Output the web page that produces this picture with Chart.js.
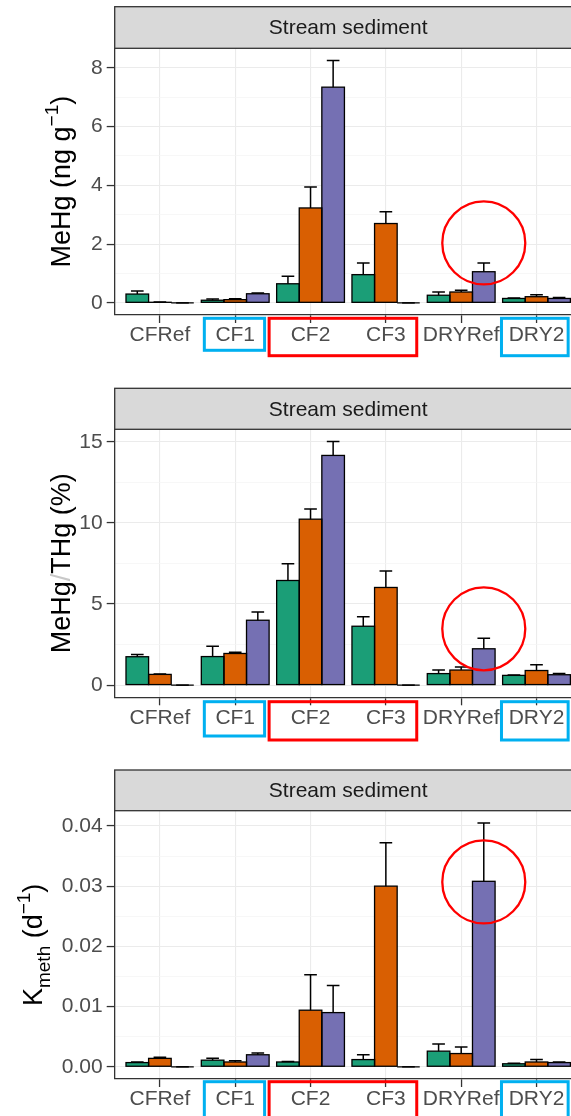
<!DOCTYPE html>
<html>
<head>
<meta charset="utf-8">
<script src="https://cdn.jsdelivr.net/npm/chart.js@4.4.1/dist/chart.umd.min.js"></script>
<style>
  html, body { margin: 0; padding: 0; background: #fff; }
  body { width: 571px; height: 1116px; overflow: hidden; position: relative; }
  .panel { position: absolute; left: 0; width: 571px; overflow: hidden; }
  canvas { display: block; }
</style>
</head>
<body>
<div class="panel" style="top:0;height:380px"><canvas id="meHgChart" width="600" height="380"></canvas></div>
<div class="panel" style="top:380px;height:380px"><canvas id="ratioChart" width="600" height="380"></canvas></div>
<div class="panel" style="top:760px;height:356px"><canvas id="kmethChart" width="600" height="356"></canvas></div>
<script>
const categories = ['CFRef', 'CF1', 'CF2', 'CF3', 'DRYRef', 'DRY2'];
const seriesNames = ['Group A', 'Group B', 'Group C'];
const stripLabel = 'Stream sediment';

// MeHg (ng g-1): means and upper error
const meHgGreen = [0.30, 0.09, 0.65, 0.96, 0.26, 0.15];
const meHgGreenErr = [0.10, 0.04, 0.26, 0.40, 0.11, 0.02];
const meHgOrange = [0.02, 0.11, 3.23, 2.70, 0.37, 0.21];
const meHgOrangeErr = [0.01, 0.03, 0.71, 0.40, 0.06, 0.07];
const meHgPurple = [0.00, 0.31, 7.34, 0.00, 1.06, 0.15];
const meHgPurpleErr = [0.00, 0.03, 0.91, 0.00, 0.30, 0.03];
const meHgTicks = [0, 2, 4, 6, 8];
const meHgTickLabels = ['0', '2', '4', '6', '8'];

// MeHg/THg (%)
const ratioGreen = [1.75, 1.76, 6.45, 3.63, 0.71, 0.60];
const ratioGreenErr = [0.14, 0.64, 1.03, 0.59, 0.22, 0.02];
const ratioOrange = [0.66, 1.95, 10.23, 6.02, 0.93, 0.90];
const ratioOrangeErr = [0.02, 0.08, 0.63, 1.01, 0.19, 0.36];
const ratioPurple = [0.00, 4.00, 14.16, 0.00, 2.24, 0.64];
const ratioPurpleErr = [0.00, 0.50, 0.86, 0.00, 0.65, 0.08];
const ratioTicks = [0, 5, 10, 15];
const ratioTickLabels = ['0', '5', '10', '15'];

// Kmeth (d-1)
const kmethGreen = [0.0007, 0.0011, 0.0008, 0.0012, 0.0026, 0.0005];
const kmethGreenErr = [0.0001, 0.0003, 0.0001, 0.0008, 0.0012, 0.0001];
const kmethOrange = [0.0014, 0.0008, 0.0094, 0.0300, 0.0022, 0.0008];
const kmethOrangeErr = [0.0002, 0.0002, 0.0059, 0.0072, 0.0011, 0.0004];
const kmethPurple = [0.0000, 0.0020, 0.0090, 0.0000, 0.0308, 0.0007];
const kmethPurpleErr = [0.0000, 0.0003, 0.0045, 0.0000, 0.0097, 0.0001];
const kmethTicks = [0, 0.01, 0.02, 0.03, 0.04];
const kmethTickLabels = ['0.00', '0.01', '0.02', '0.03', '0.04'];

// highlighted bar (DRYRef, third series) and the value the red circle is centred on
const circledCategory = 'DRYRef';
const circledSeries = 2;
const circleCentre = [2.04, 3.47, 0.0307];

const barColors = ['#1b9e77', '#d95f02', '#7570b3'];
const FONT = "'Liberation Sans', Arial, Helvetica, sans-serif";
Chart.defaults.font.family = FONT;

const panels = [
  {
    id: 'meHgChart',
    values: [meHgGreen, meHgOrange, meHgPurple],
    errors: [meHgGreenErr, meHgOrangeErr, meHgPurpleErr],
    ticks: meHgTicks, tickLabels: meHgTickLabels,
    title: [['MeHg (ng g', ''], ['\u22121', 'sup'], [')', '']],
    circle: circleCentre[0],
    layout: { stripTop: 6.7, areaTop: 48.3, areaBottom: 315, titleX: 70, boxTop: 3.3, blueBottom: 35.3, redBottom: 40.7 }
  },
  {
    id: 'ratioChart',
    values: [ratioGreen, ratioOrange, ratioPurple],
    errors: [ratioGreenErr, ratioOrangeErr, ratioPurpleErr],
    ticks: ratioTicks, tickLabels: ratioTickLabels,
    title: [['MeHg', ''], ['/', 'light'], ['THg (%)', '']],
    circle: circleCentre[1],
    layout: { stripTop: 8.3, areaTop: 49.3, areaBottom: 317.3, titleX: 70, boxTop: 4.4, blueBottom: 38.7, redBottom: 42.7 }
  },
  {
    id: 'kmethChart',
    values: [kmethGreen, kmethOrange, kmethPurple],
    errors: [kmethGreenErr, kmethOrangeErr, kmethPurpleErr],
    ticks: kmethTicks, tickLabels: kmethTickLabels,
    title: [['K', ''], ['meth', 'sub'], [' (d', ''], ['\u22121', 'sup'], [')', '']],
    circle: circleCentre[2],
    layout: { stripTop: 10, areaTop: 50.7, areaBottom: 319, titleX: 42, boxTop: 2.7, blueBottom: 60, redBottom: 60 }
  }
];

// label boxes drawn under the x axis (category index offsets)
const boxes = [
  { from: 'CF1', to: 'CF1', padL: 0.41, padR: 0.39, color: '#00b0f0', short: true },
  { from: 'CF2', to: 'CF3', padL: 0.55, padR: 0.41, color: '#ff0000', short: false },
  { from: 'DRY2', to: 'DRY2', padL: 0.465, padR: 0.42, color: '#00b0f0', short: false }
];

function decorPlugin(panel) {
  const L = panel.layout;
  return {
    id: 'panelDecor',
    afterDatasetsDraw(chart) {
      const ctx = chart.ctx;
      const ys = chart.scales.y;
      ctx.save();
      ctx.strokeStyle = '#000';
      ctx.lineWidth = 1.3;
      // bar outlines, zero-height bars included
      chart.data.datasets.forEach((ds, s) => {
        chart.getDatasetMeta(s).data.forEach((bar) => {
          const p = bar.getProps(['x', 'y', 'base', 'width'], true);
          ctx.strokeRect(p.x - p.width / 2, p.y, p.width, p.base - p.y);
        });
      });
      // upper error bars
      ctx.lineWidth = 1.5;
      chart.data.datasets.forEach((ds, s) => {
        chart.getDatasetMeta(s).data.forEach((bar, i) => {
          const p = bar.getProps(['x', 'y', 'width'], true);
          const top = ys.getPixelForValue(ds.data[i].y + ds.errors[i]);
          const cap = p.width * 0.28;
          ctx.beginPath();
          ctx.moveTo(p.x, p.y);
          ctx.lineTo(p.x, top);
          ctx.moveTo(p.x - cap, top);
          ctx.lineTo(p.x + cap, top);
          ctx.stroke();
        });
      });
      ctx.restore();
    },
    afterDraw(chart) {
      const ctx = chart.ctx;
      const area = chart.chartArea;
      const xs = chart.scales.x;
      const ys = chart.scales.y;
      ctx.save();

      // facet strip
      ctx.fillStyle = '#d9d9d9';
      ctx.fillRect(area.left, L.stripTop, area.right - area.left, area.top - L.stripTop);
      ctx.strokeStyle = '#333';
      ctx.lineWidth = 1.3;
      ctx.strokeRect(area.left, L.stripTop, area.right - area.left, area.top - L.stripTop);
      ctx.fillStyle = '#1a1a1a';
      ctx.font = '21px ' + FONT;
      ctx.textAlign = 'center';
      ctx.textBaseline = 'middle';
      ctx.fillText(stripLabel, (area.left + area.right) / 2, (L.stripTop + area.top) / 2 + 1);

      // y axis title with super/subscripts
      const big = 27, small = 19;
      ctx.save();
      ctx.translate(L.titleX, (area.top + area.bottom) / 2);
      ctx.rotate(-Math.PI / 2);
      ctx.textAlign = 'left';
      ctx.textBaseline = 'alphabetic';
      const runs = panel.title.map(([t, k]) => {
        ctx.font = ((k === 'sup' || k === 'sub') ? small : big) + 'px ' + FONT;
        return { t, k, w: ctx.measureText(t).width };
      });
      let pos = -runs.reduce((a, r) => a + r.w, 0) / 2;
      runs.forEach((r) => {
        ctx.font = ((r.k === 'sup' || r.k === 'sub') ? small : big) + 'px ' + FONT;
        ctx.fillStyle = r.k === 'light' ? '#c8c8c8' : '#000';
        const dy = r.k === 'sup' ? -0.45 * big : r.k === 'sub' ? 0.3 * big : 0;
        ctx.fillText(r.t, pos, dy);
        pos += r.w;
      });
      ctx.restore();

      // highlight boxes round x labels
      ctx.lineWidth = 3;
      boxes.forEach((b) => {
        const x0 = xs.getPixelForValue(categories.indexOf(b.from) - b.padL);
        const x1 = xs.getPixelForValue(categories.indexOf(b.to) + b.padR);
        const y0 = area.bottom + L.boxTop;
        const y1 = area.bottom + (b.short ? L.blueBottom : L.redBottom);
        ctx.strokeStyle = b.color;
        ctx.strokeRect(x0, y0, x1 - x0, y1 - y0);
      });

      // red circle on the highlighted bar
      const bar = chart.getDatasetMeta(circledSeries).data[categories.indexOf(circledCategory)];
      ctx.strokeStyle = '#ff0000';
      ctx.lineWidth = 2.3;
      ctx.beginPath();
      ctx.arc(bar.x, ys.getPixelForValue(panel.circle), 41.5, 0, Math.PI * 2);
      ctx.stroke();
      ctx.restore();
    }
  };
}

function makePanel(panel) {
  const canvas = document.getElementById(panel.id);
  const L = panel.layout;
  const tops = panel.values.flatMap((v, s) => v.map((m, i) => m + panel.errors[s][i]));
  const top = Math.max(...tops);
  const pad = top * 0.05;
  const step = panel.ticks[1] - panel.ticks[0];
  const isMajor = (v) => panel.ticks.some((t) => Math.abs(t - v) < step * 1e-6);
  const gridValues = [];
  panel.ticks.forEach((t) => {
    gridValues.push(t);
    if (t + step / 2 <= top + pad) gridValues.push(t + step / 2);
  });

  new Chart(canvas, {
    type: 'bar',
    data: {
      datasets: panel.values.map((vals, s) => ({
        label: seriesNames[s],
        data: vals.map((v, i) => ({ x: i, y: v })),
        errors: panel.errors[s],
        backgroundColor: barColors[s],
        borderWidth: 0,
        categoryPercentage: 0.9,
        barPercentage: 1.0
      }))
    },
    options: {
      responsive: false,
      animation: false,
      devicePixelRatio: 1,
      layout: { padding: { top: L.areaTop, left: 0, right: 600 - 581.7, bottom: 0 } },
      plugins: { legend: { display: false }, tooltip: { enabled: false } },
      scales: {
        x: {
          type: 'linear',
          offset: false,
          min: -0.6,
          max: categories.length - 0.4,
          afterBuildTicks: (scale) => { scale.ticks = categories.map((c, i) => ({ value: i })); },
          afterFit: (scale) => { scale.height = canvas.height - L.areaBottom; },
          ticks: {
            autoSkip: false, maxRotation: 0, padding: 0,
            color: '#4d4d4d', font: { size: 21 },
            callback: (v) => categories[v]
          },
          grid: { offset: false, color: '#ebebeb', lineWidth: 1.1, tickLength: 8, tickColor: '#333', tickWidth: 1.3 },
          border: { display: true, color: '#333', width: 1.3 }
        },
        y: {
          min: -pad,
          max: top + pad,
          afterBuildTicks: (scale) => { scale.ticks = gridValues.map((v) => ({ value: v })); },
          afterFit: (scale) => { scale.width = 114.7; },
          ticks: {
            autoSkip: false, padding: 4,
            color: '#4d4d4d', font: { size: 21 },
            callback: (v) => {
              const k = panel.ticks.findIndex((t) => Math.abs(t - v) < step * 1e-6);
              return k >= 0 ? panel.tickLabels[k] : '';
            }
          },
          grid: {
            color: (c) => isMajor(c.tick.value) ? '#ebebeb' : '#f4f4f4',
            lineWidth: (c) => isMajor(c.tick.value) ? 1.1 : 0.7,
            tickLength: 8,
            tickColor: (c) => isMajor(c.tick.value) ? '#333' : 'rgba(0,0,0,0)',
            tickWidth: 1.3
          },
          border: { display: true, color: '#333', width: 1.3 }
        }
      }
    },
    plugins: [decorPlugin(panel)]
  });
}

panels.forEach(makePanel);
</script>
</body>
</html>
